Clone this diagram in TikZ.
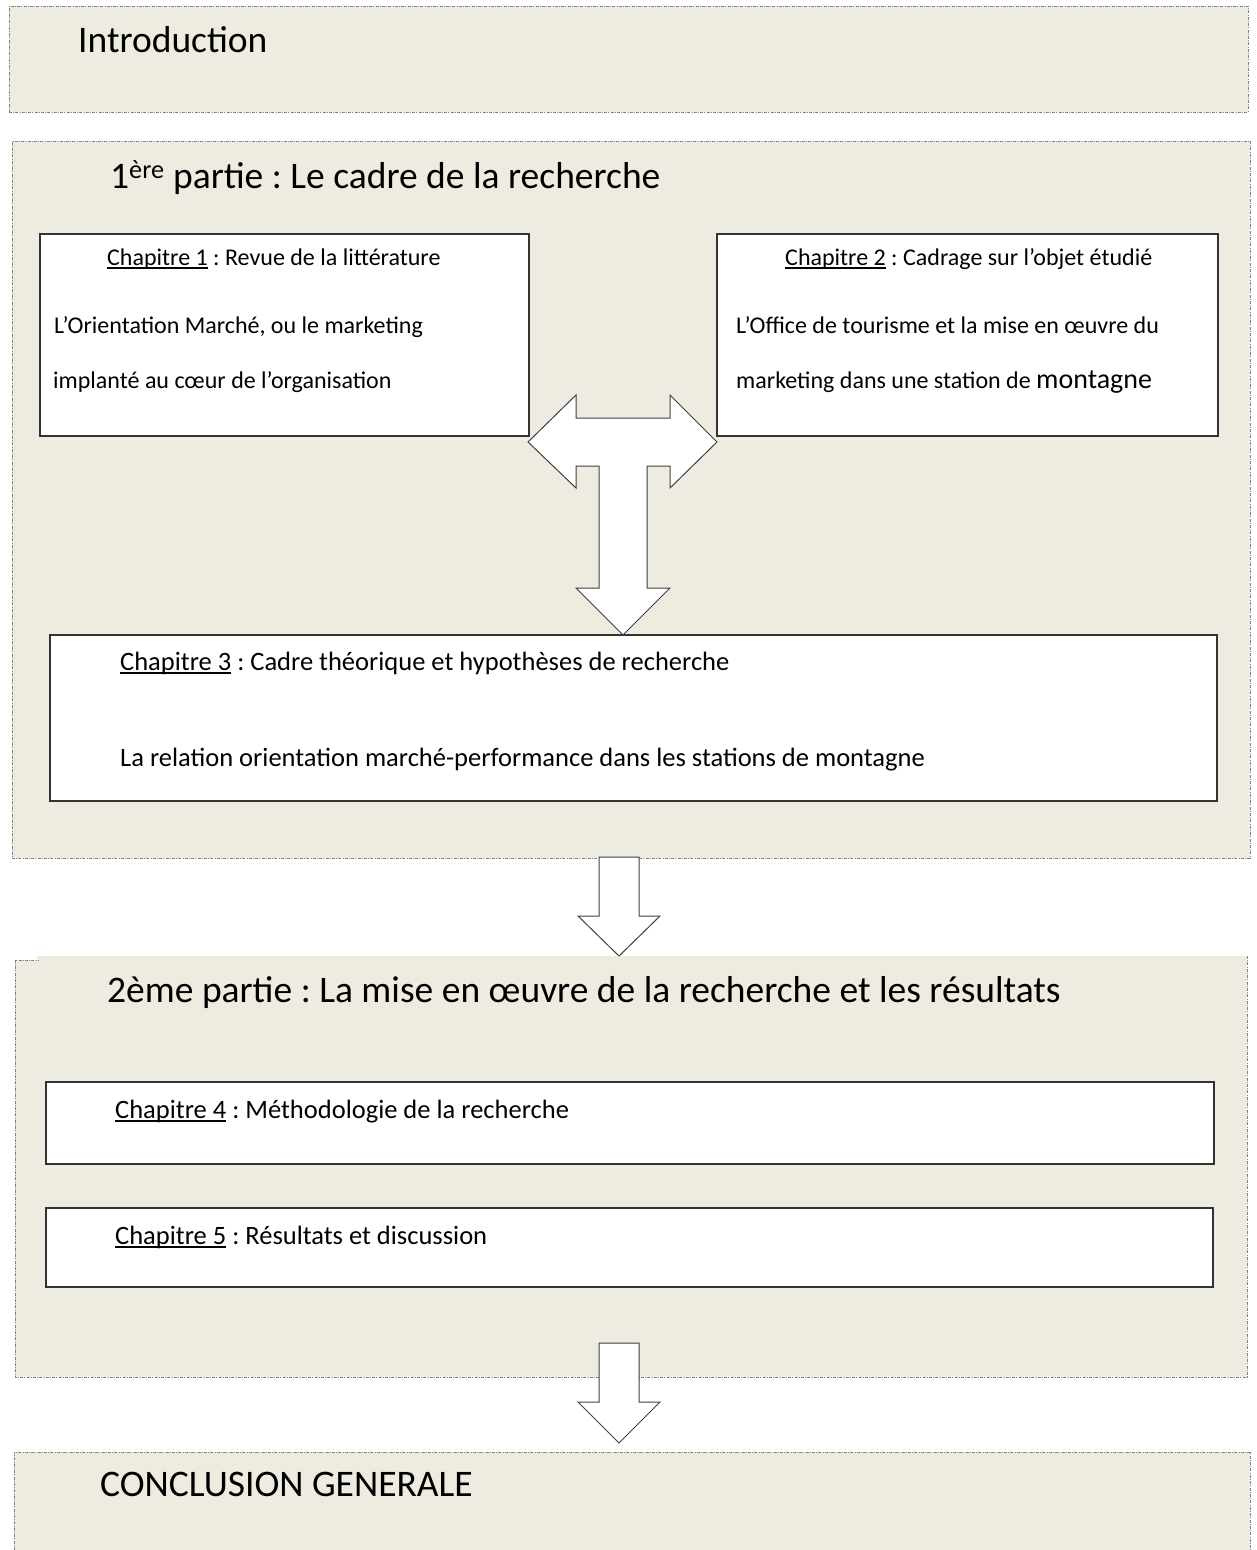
\documentclass[tikz,border=0pt]{standalone}
\usepackage{fontspec}
\setmainfont{Carlito}
\frenchspacing
\newcommand\chapul[1]{\setbox0\hbox{#1}\rlap{\rule[-4pt]{\wd0}{1.6pt}}\box0\relax}
\definecolor{tanbg}{HTML}{EEECE1}
\definecolor{edgegray}{HTML}{808080}
\tikzset{
  partbox/.style={fill=tanbg, draw=edgegray, line width=0.9pt, dash pattern=on 3pt off 1.2pt on 1pt off 1.2pt, anchor=north west, inner sep=0pt, outer sep=0pt},
  partfill/.style={fill=tanbg, draw=none, anchor=north west, inner sep=0pt, outer sep=0pt},
  partedge/.style={draw=edgegray, line width=0.9pt, dash pattern=on 3pt off 1.2pt on 1pt off 1.2pt},
  chapbox/.style={fill=white, draw=black!80, line width=1.3pt, anchor=north west, inner sep=0pt, outer sep=0pt},
  blockarrow/.style={fill=white, draw=black!75, line width=1pt, line join=miter},
  bigtext/.style={font=\fontsize{37.5}{45}\selectfont, anchor=base west, inner sep=0pt},
  smalltext/.style={font=\fontsize{24}{29}\selectfont, anchor=base west, inner sep=0pt},
  midtext/.style={font=\fontsize{26.5}{32}\selectfont, anchor=base west, inner sep=0pt},
}
\begin{document}
\frenchspacing
\begin{tikzpicture}[x=1pt,y=-1pt]
\useasboundingbox (0,0) rectangle (1256,1550);

% Introduction
\node[partbox, minimum width=1239pt, minimum height=106pt] (intro) at (9,6) {};
\node[bigtext] (introT) at (78,52) {Introduction};

% Part 1
\node[partbox, minimum width=1238pt, minimum height=717pt] (part1) at (12,141) {};
\node[bigtext] (part1T) at (110,188) {1\textsuperscript{ère} partie : Le cadre de la recherche};

\node[chapbox, minimum width=489pt, minimum height=202pt] (ch1) at (40,234) {};
\node[smalltext] (ch1a) at (107,265) {\chapul{Chapitre 1} : Revue de la littérature};
\node[smalltext] (ch1b) at (54,333) {L’Orientation Marché, ou le marketing};
\node[smalltext] (ch1c) at (53,388) {implanté au cœur de l’organisation};

\node[chapbox, minimum width=501pt, minimum height=202pt] (ch2) at (717,234) {};
\node[smalltext] (ch2a) at (785,265) {\chapul{Chapitre 2} : Cadrage sur l’objet étudié};
\node[smalltext] (ch2b) at (736,333) {L’Office de tourisme et la mise en œuvre du};
\node[smalltext] (ch2c) at (736,388) {marketing dans une station de {\fontsize{28}{34}\selectfont montagne}};

\node[chapbox, minimum width=1167pt, minimum height=166pt] (ch3) at (50,635) {};
\node[midtext] (ch3a) at (120,670) {\chapul{Chapitre 3} : Cadre théorique et hypothèses de recherche};
\node[midtext] (ch3b) at (120,766) {La relation orientation marché-performance dans les stations de montagne};

% T-shaped block arrow
\draw[blockarrow] (528,442) -- (576,395) -- (576,418) -- (670,418) -- (670,395) -- (717,442)
  -- (670,488) -- (670,466) -- (647,466) -- (647,588) -- (670,588) -- (623,635)
  -- (576,588) -- (599,588) -- (599,466) -- (576,466) -- (576,488) -- cycle;

% Part 2 (with the small notch at its top left corner)
\node[partfill, minimum width=1210pt, minimum height=421pt] (part2) at (37,956) {};
\node[partfill, minimum width=23pt, minimum height=417pt] (part2n) at (15,960) {};
\draw[partedge] (part2.north east) -- (part2.south east) -- (part2n.south west)
  -- (part2n.north west) -- (part2n.north east);
\node[bigtext] (part2T) at (107,1002) {2ème partie : La mise en œuvre de la recherche et les résultats};

\node[chapbox, minimum width=1168pt, minimum height=82pt] (ch4) at (46,1082) {};
\node[midtext] (ch4a) at (115,1118) {\chapul{Chapitre 4} : Méthodologie de la recherche};

\node[chapbox, minimum width=1167pt, minimum height=79pt] (ch5) at (46,1208) {};
\node[midtext] (ch5a) at (115,1244) {\chapul{Chapitre 5} : Résultats et discussion};

% Conclusion (bottom edge runs off the page)
\node[partfill, minimum width=1236pt, minimum height=98pt] (concl) at (14,1452) {};
\draw[partedge] (concl.south west) -- (concl.north west) -- (concl.north east) -- (concl.south east);
\node[bigtext] (conclT) at (100,1496) {CONCLUSION GENERALE};

% Arrow part 1 -> part 2
\draw[blockarrow] (599,857) -- (639,857) -- (639,916) -- (660,916) -- (619,956)
  -- (578,916) -- (599,916) -- cycle;

% Arrow part 2 -> conclusion
\draw[blockarrow] (599,1343) -- (639,1343) -- (639,1402) -- (660,1402) -- (619,1443)
  -- (578,1402) -- (599,1402) -- cycle;
\end{tikzpicture}
\end{document}
